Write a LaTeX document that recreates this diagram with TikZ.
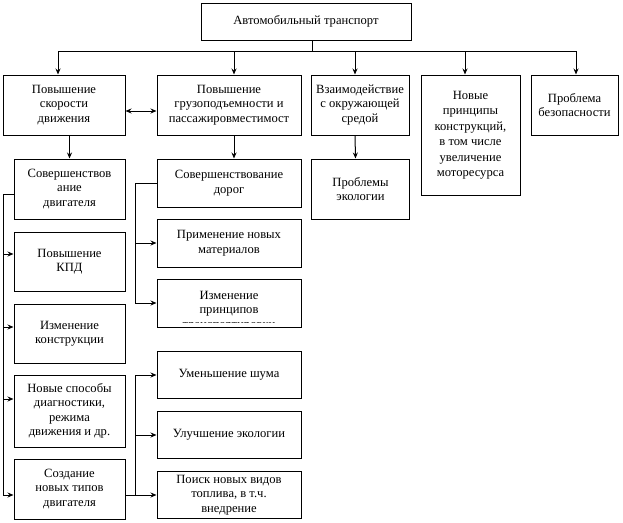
\documentclass[tikz,border=0pt]{standalone}
\usepackage{fontspec}
\setmainfont{Liberation Serif}
\usetikzlibrary{arrows.meta}

\begin{document}
\begin{tikzpicture}[x=1pt, y=-1pt, line width=1pt,
  box/.style={draw, align=center, inner sep=1pt, font=\fontsize{12.6}{14.5}\selectfont},
  >={Stealth[length=6pt, width=5pt, inset=2pt]}]
\useasboundingbox (0,0) rectangle (623,522);
\node[box, minimum width=210, minimum height=37] (top) at (306,21.5) {Автомобильный транспорт};
\node[box, minimum width=122, minimum height=60] (speed) at (64,105) {Повышение\\скорости\\движения};
\node[box, minimum width=144, minimum height=60] (load) at (229,105) {Повышение\\грузоподъемности и\\пассажировместимост};
\node[box, minimum width=98, minimum height=60] (env) at (360,105) {Взаимодействие\\с окружающей\\средой};
\node[box, minimum width=99, minimum height=120, font=\fontsize{12.6}{15.5}\selectfont] (princ) at (470.5,135) {Новые\\принципы\\конструкций,\\в том числе\\увеличение\\моторесурса};
\node[box, minimum width=87, minimum height=60] (safe) at (574.5,105) {Проблема\\безопасности};

\node[box, minimum width=111, minimum height=60] (engine) at (69.5,189) {Совершенствов\\ание\\двигателя};
\node[box, minimum width=144, minimum height=48] (roads) at (229,183) {Совершенствование\\дорог};
\node[box, minimum width=98, minimum height=60] (eco) at (360.5,189) {Проблемы\\экологии};

\node[box, minimum width=111, minimum height=59] (kpd) at (69.5,261.5) {Повышение\\КПД};
\node[box, minimum width=111, minimum height=59] (constr) at (69.5,333.5) {Изменение\\конструкции};
\node[box, minimum width=111, minimum height=72] (diag) at (69.5,411) {Новые способы\\диагностики,\\режима\\движения и др.};
\node[box, minimum width=111, minimum height=60] (newtype) at (69.5,489) {Создание\\новых типов\\двигателя};

\node[box, minimum width=144, minimum height=48] (mater) at (229,243) {Применение новых\\материалов};
\node[box, minimum width=144, minimum height=48] (princ2) at (229,303) {};
\begin{scope}
\clip (princ2.north west) rectangle ([yshift=4.8pt]princ2.south east);
\node[box, draw=none] (princ2t) at ([yshift=-8pt]princ2.center) {Изменение\\принципов\\транспортировки};
\end{scope}
\node[box, minimum width=144, minimum height=47] (noise) at (229,375) {Уменьшение шума};
\node[box, minimum width=144, minimum height=47] (ecol2) at (229,435) {Улучшение экологии};
\node[box, minimum width=144, minimum height=47] (fuel) at (229,495) {Поиск новых видов\\топлива, в т.ч.\\внедрение};

\coordinate (bus) at (312,51);
\coordinate (b1) at (58,51);
\coordinate (b2) at (234,51);
\coordinate (b3) at (355,51);
\coordinate (b4) at (465,51);
\coordinate (b5) at (576,51);
\draw (bus |- top.south) -- (bus);
\draw (b1) -- (b5);
\draw[->] (b1) -- (b1 |- speed.north);
\draw[->] (b2) -- (b2 |- load.north);
\draw[->] (b3) -- (b3 |- env.north);
\draw[->] (b4) -- (b4 |- princ.north);
\draw[->] (b5) -- (b5 |- safe.north);

\draw[<->] ([yshift=-6pt]speed.east) -- ([yshift=-6pt]load.west);
\draw[->] (engine.north |- speed.south) -- (engine.north);
\draw[->] ([xshift=5pt]load.south) -- ([xshift=5pt]roads.north);
\draw[->] ([xshift=-5pt]env.south) -- ([xshift=-5pt]eco.north);

\coordinate (lbus) at (3,194);
\coordinate (akpd) at ([yshift=7.5pt]kpd.west);
\coordinate (aconstr) at ([yshift=6.5pt]constr.west);
\coordinate (adiag) at ([yshift=12pt]diag.west);
\coordinate (anew) at ([yshift=-6pt]newtype.west);
\coordinate (onew) at ([yshift=-6pt]newtype.east);
\draw (engine.west |- lbus) -- (lbus);
\draw[->] (lbus) |- (anew);
\draw[->] (lbus |- akpd) -- (akpd);
\draw[->] (lbus |- aconstr) -- (aconstr);
\draw[->] (lbus |- adiag) -- (adiag);

\coordinate (mbus) at (135,183);
\draw (roads.west) -- (mbus);
\draw[->] (mbus) |- (princ2.west);
\draw[->] (mbus |- mater.west) -- (mater.west);

\coordinate (bbus) at (onew -| mbus);
\draw[->] (onew) -- (fuel.west);
\draw[->] (bbus) |- (noise.west);
\draw[->] (bbus |- ecol2.west) -- (ecol2.west);
\end{tikzpicture}
\end{document}
